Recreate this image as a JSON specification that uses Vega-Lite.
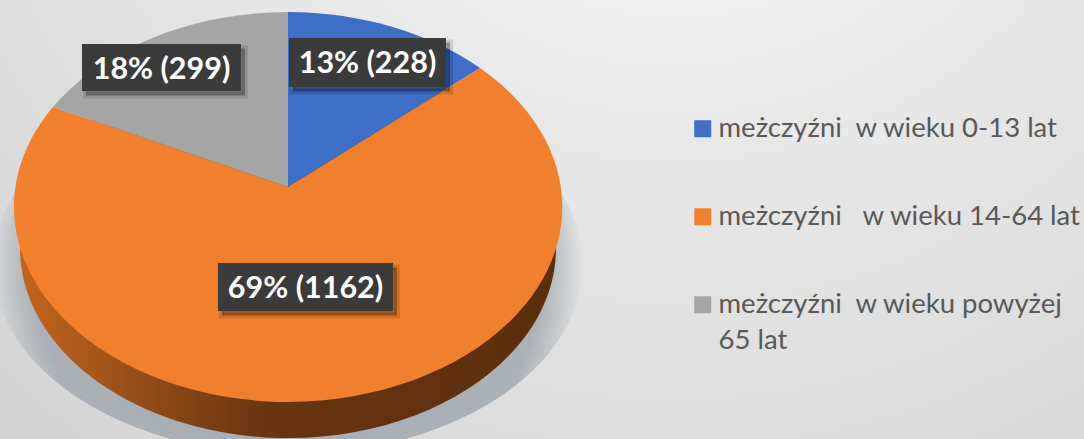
{
"$schema":"https://vega.github.io/schema/vega-lite/v6.json",
"width":1084,"height":439,"padding":0,
"autosize":{"type":"fit","contains":"padding"},
"background":"#e4e4e4",
"view":{"stroke":null},
"config":{"style":{"guide-label":{"lineHeight":36}}},
"datasets":{
"slices":[
{"grupa":"meżczyźni\u00a0 w wieku 0-13 lat","liczba":228,"etykieta":"13% (228)"},
{"grupa":"meżczyźni\u00a0\u00a0 w wieku 14-64 lat","liczba":1162,"etykieta":"69% (1162)"},
{"grupa":"meżczyźni\u00a0 w wieku powyżej 65 lat","liczba":299,"etykieta":"18% (299)"}
],
"one":[{"czesc":"tlo"}]
},
"data":{"name":"slices"},
"layer":[
{"data":{"name":"one"},"mark":{"type":"rect","fill":{"gradient":"radial","x1":0.62,"y1":0,"x2":0.62,"y2":0,"r1":0,"r2":1.2,"stops":[{"offset":0,"color":"#fbfbfb"},{"offset":1,"color":"#c8c8c8"}]}}},
{"data":{"name":"one"},"mark":{"type":"point","filled":true,"opacity":1,"clip":true,"shape":"M-549 45 A295 190 0 1 0 41 45 A295 190 0 1 0 -549 45 Z","size":4,"fill":{"gradient":"radial","x1":0.5,"y1":0.5,"x2":0.5,"y2":0.5,"r1":0,"r2":0.5,"stops":[{"offset":0,"color":"rgba(165,172,178,1)"},{"offset":0.86,"color":"rgba(165,172,178,0.9)"},{"offset":0.93,"color":"rgba(165,172,178,0.5)"},{"offset":1,"color":"rgba(165,172,178,0)"}]}},"encoding":{}},
{"data":{"name":"one"},"mark":{"type":"point","filled":true,"opacity":1,"shape":"M-522 28.5 A268 190 0 1 0 14 28.5 A268 190 0 1 0 -522 28.5 Z","size":4,"fill":{"gradient":"linear","x1":0,"y1":0,"x2":1,"y2":0,"stops":[{"offset":0,"color":"#c4641c"},{"offset":0.2,"color":"#98501a"},{"offset":0.45,"color":"#6a3510"},{"offset":1,"color":"#5c2e0e"}]}},"encoding":{}},
{"mark":{"type":"point","filled":true,"opacity":1,"size":4},
"encoding":{
"color":{"field":"grupa","type":"nominal","legend":null,"scale":{"domain":["meżczyźni\u00a0 w wieku 0-13 lat","meżczyźni\u00a0\u00a0 w wieku 14-64 lat","meżczyźni\u00a0 w wieku powyżej 65 lat"],"range":["#3f6ec6","#f0802e","#a5a5a5"]}},
"shape":{"field":"grupa","type":"nominal","legend":null,"scale":{"domain":["meżczyźni\u00a0 w wieku 0-13 lat","meżczyźni\u00a0\u00a0 w wieku 14-64 lat","meżczyźni\u00a0 w wieku powyżej 65 lat"],"range":[
"M-254 -32.5 L-254 -207.5 A275.5 195 0 0 1 -62 -151.5 Z",
"M-254 -32.5 L-62 -151.5 A275.5 195 0 0 1 -254 182.5 A275.5 195 0 0 1 -489 -112.5 Z",
"M-254 -32.5 L-489 -112.5 A275.5 195 0 0 1 -254 -207.5 Z"]}}
}},
{"mark":{"type":"point","filled":true,"opacity":1,"size":0,"shape":"square"},
"encoding":{
"color":{"field":"grupa","type":"nominal","scale":{"domain":["meżczyźni\u00a0 w wieku 0-13 lat","meżczyźni\u00a0\u00a0 w wieku 14-64 lat","meżczyźni\u00a0 w wieku powyżej 65 lat"],"range":["#3f6ec6","#f0802e","#a5a5a5"]},
"legend":{"title":null,"orient":"none","legendX":689,"legendY":115,"symbolType":"square","symbolSize":289,"symbolStrokeWidth":0,"labelFont":"Lato","labelFontSize":27.5,"labelColor":"#595959","labelLimit":400,"labelOffset":2,"rowPadding":59,"padding":0,"labelExpr":"split(replace(datum.label,'powyżej 65','powyżej|65'),'|')"}}
}},
{"mark":{"type":"point","filled":true,"opacity":1,"size":4,"fill":"#000","fillOpacity":0.3,"stroke":"#000","strokeOpacity":0.12,"strokeWidth":6},
"encoding":{"shape":{"field":"etykieta","type":"nominal","legend":null,"scale":{"domain":["13% (228)","69% (1162)","18% (299)"],"range":[
"M-249 -177 H-92 V-128 H-249 Z",
"M-320 48 H-145 V96 H-320 Z",
"M-456 -171 H-297 V-124 H-456 Z"]}}}},
{"mark":{"type":"point","filled":true,"opacity":1,"size":4,"fill":"#3b3b3b"},
"encoding":{"shape":{"field":"etykieta","type":"nominal","legend":null,"scale":{"domain":["13% (228)","69% (1162)","18% (299)"],"range":[
"M-253 -181.5 H-96 V-132.5 H-253 Z",
"M-324 43.5 H-149 V91.5 H-324 Z",
"M-460 -175.5 H-301 V-128.5 H-460 Z"]}}}},
{"transform":[{"filter":"datum.liczba==228"}],"mark":{"type":"text","font":"Lato","fontWeight":"bold","fontSize":30.5,"color":"#ffffff","dx":-174.5,"dy":-156},"encoding":{"text":{"field":"etykieta"}}},
{"transform":[{"filter":"datum.liczba==1162"}],"mark":{"type":"text","font":"Lato","fontWeight":"bold","fontSize":30.5,"color":"#ffffff","dx":-236.5,"dy":69},"encoding":{"text":{"field":"etykieta"}}},
{"transform":[{"filter":"datum.liczba==299"}],"mark":{"type":"text","font":"Lato","fontWeight":"bold","fontSize":30.5,"color":"#ffffff","dx":-380.5,"dy":-150},"encoding":{"text":{"field":"etykieta"}}}
],
"resolve":{"scale":{"shape":"independent","color":"independent"}}
}
